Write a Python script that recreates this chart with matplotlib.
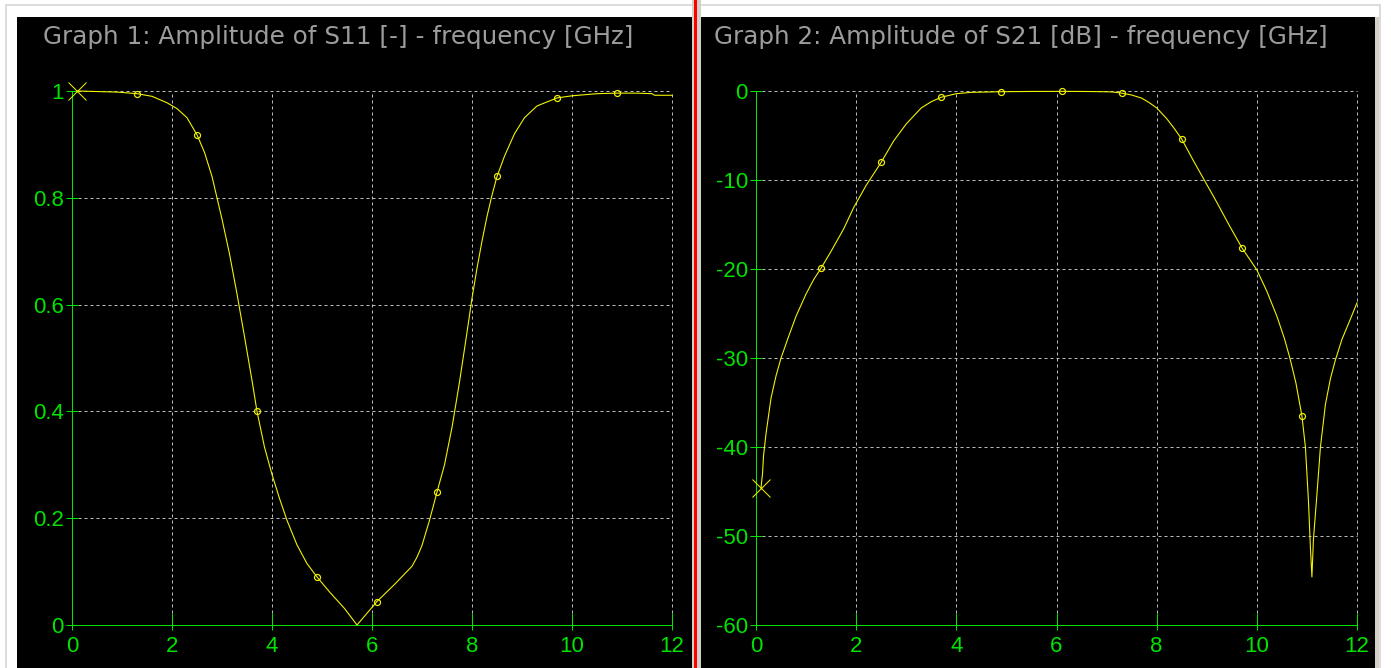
import numpy as np
import matplotlib
matplotlib.use("Agg")
import matplotlib.pyplot as plt
from matplotlib.patches import Rectangle

# ---- data -------------------------------------------------------------
freq_s11 = [0.1, 0.5, 0.9, 1.3, 1.6, 1.9, 2.1, 2.3, 2.5, 2.65, 2.8, 2.9, 3.0,
            3.15, 3.3, 3.45, 3.6, 3.7, 3.85, 4.0, 4.15, 4.3, 4.5, 4.7, 4.9,
            5.15, 5.45, 5.7, 6.1, 6.45, 6.8, 6.9, 7.0, 7.15, 7.3, 7.45, 7.6,
            7.75, 7.9, 8.0, 8.1, 8.2, 8.3, 8.4, 8.5, 8.65, 8.85, 9.05, 9.3,
            9.7, 10.0, 10.5, 10.9, 11.3, 11.6, 11.65, 12.0]
s11_mag = [1.0, 0.999, 0.998, 0.995, 0.990, 0.978, 0.967, 0.950, 0.918, 0.885,
           0.840, 0.800, 0.760, 0.695, 0.620, 0.540, 0.458, 0.400, 0.333, 0.282,
           0.237, 0.196, 0.150, 0.115, 0.090, 0.062, 0.031, 0.000, 0.044, 0.076,
           0.110, 0.127, 0.149, 0.196, 0.249, 0.300, 0.370, 0.455, 0.548, 0.612,
           0.668, 0.719, 0.765, 0.805, 0.840, 0.878, 0.920, 0.950, 0.972, 0.987,
           0.991, 0.995, 0.996, 0.996, 0.995, 0.992, 0.992]

freq_s21 = [0.1, 0.13, 0.15, 0.2, 0.3, 0.4, 0.5, 0.65, 0.8, 1.0, 1.15, 1.3,
            1.5, 1.75, 1.95, 2.2, 2.5, 2.75, 3.0, 3.3, 3.5, 3.7, 4.0, 4.3,
            4.9, 5.5, 6.1, 6.7, 7.1, 7.3, 7.5, 7.7, 7.85, 8.0, 8.2, 8.35, 8.5,
            8.75, 8.95, 9.2, 9.45, 9.7, 10.0, 10.2, 10.4, 10.55, 10.66, 10.78,
            10.9, 10.97, 11.03, 11.07, 11.1, 11.13, 11.2, 11.27, 11.37, 11.47,
            11.57, 11.7, 11.87, 12.0]
s21_db = [-44.6, -43.0, -41.0, -38.5, -34.5, -32.0, -30.0, -27.6, -25.3, -22.8,
          -21.2, -19.9, -18.0, -15.5, -13.1, -10.6, -8.0, -5.6, -3.7, -1.9,
          -1.2, -0.7, -0.3, -0.15, -0.08, -0.05, -0.04, -0.06, -0.1, -0.24,
          -0.45, -0.8, -1.3, -1.9, -3.1, -4.2, -5.4, -8.0, -10.0, -12.5, -15.1,
          -17.6, -20.1, -22.5, -25.3, -27.8, -30.0, -32.8, -36.5, -40.0, -46.0,
          -51.3, -54.6, -50.4, -45.3, -40.0, -35.2, -32.3, -30.2, -27.9, -25.6,
          -23.8]

start_freq = 0.1
marker_freqs = [1.3, 2.5, 3.7, 4.9, 6.1, 7.3, 8.5, 9.7, 10.9]

x_ticks = [0, 2, 4, 6, 8, 10, 12]
s11_ticks = [0, 0.2, 0.4, 0.6, 0.8, 1.0]
s11_tick_labels = ["0", "0.2", "0.4", "0.6", "0.8", "1"]
s21_ticks = [-60, -50, -40, -30, -20, -10, 0]
s21_tick_labels = ["-60", "-50", "-40", "-30", "-20", "-10", "0"]

titles = ["Graph 1: Amplitude of S11 [-] - frequency [GHz]",
          "Graph 2: Amplitude of S21 [dB] - frequency [GHz]"]

# ---- style ------------------------------------------------------------
W, H, DPI = 1391, 668, 100
PX = 72.0 / DPI                      # one pixel in points
GREEN = "#00e400"
YELLOW = "#f4f400"
GRID = "#bcbcbc"
TITLE = "#9c9c9c"
FRAME = "#d4d0c8"

plt.rcParams["font.family"] = ["Liberation Sans", "DejaVu Sans"]
TICK_FONT = ["Liberation Sans", "DejaVu Sans"]
TITLE_FONT = ["DejaVu Sans"]

fig = plt.figure(figsize=(W / DPI, H / DPI), dpi=DPI, facecolor="white")


def box(x0, y0, x1, y1):
    """Figure-fraction rectangle from a pixel box measured from the top-left."""
    return [x0 / W, 1 - y1 / H, (x1 - x0) / W, (y1 - y0) / H]


def add_rect(x0, y0, x1, y1, **kw):
    l, b, w, h = box(x0, y0, x1, y1)
    fig.patches.append(Rectangle((l, b), w, h, transform=fig.transFigure,
                                 figure=fig, zorder=-5, **kw))


# outer frame, black panels and the splitter between them
add_rect(6, 5, 1380, 700, facecolor="none", edgecolor="#dcdcdc", linewidth=2 * PX)
add_rect(17, 17, 692, 700, facecolor="black", edgecolor="none")
add_rect(701, 17, 1375, 700, facecolor="black", edgecolor="none")
add_rect(692, 0, 701, 700, facecolor=FRAME, edgecolor="none")
add_rect(694, 0, 697, 700, facecolor="#ff0000", edgecolor="none")
add_rect(1375, 17, 1379, 700, facecolor=FRAME, edgecolor="none")


def make_panel(rect, freq, vals, yticks, ylabels, ylim, title, title_x):
    ax = fig.add_axes(box(*rect))
    ax.set_zorder(2)
    ax.patch.set_visible(False)
    ax.set_xlim(0, 12)
    ax.set_ylim(*ylim)

    # dotted grid, including the right and top edges
    ax.vlines(x_ticks[1:], ylim[0], ylim[1], colors=GRID, linewidth=PX,
              linestyles=(0, (3, 3)), clip_on=False, zorder=1)
    ax.hlines(yticks[1:], 0, 12, colors=GRID, linewidth=PX,
              linestyles=(0, (3, 3)), clip_on=False, zorder=1)

    for side in ("top", "right"):
        ax.spines[side].set_visible(False)
    for side in ("left", "bottom"):
        ax.spines[side].set_color(GREEN)
        ax.spines[side].set_linewidth(PX)
        ax.spines[side].set_zorder(2)

    ax.set_xticks(x_ticks)
    ax.set_xticklabels([str(t) for t in x_ticks])
    ax.set_xticks(x_ticks, minor=True)
    ax.xaxis.remove_overlapping_locs = False
    ax.set_yticks(yticks)
    ax.set_yticklabels(ylabels)

    ax.tick_params(axis="x", which="major", direction="in", length=12 * PX,
                   width=PX, color=GREEN, labelcolor=GREEN, labelsize=16,
                   pad=8)
    ax.tick_params(axis="x", which="minor", direction="out", length=5 * PX,
                   width=PX, color=GREEN, labelbottom=False)
    ax.tick_params(axis="y", which="major", direction="inout", length=12 * PX,
                   width=PX, color=GREEN, labelcolor=GREEN, labelsize=16,
                   pad=1.5)
    for lab in ax.get_xticklabels() + ax.get_yticklabels():
        lab.set_family(TICK_FONT)

    ax.plot(freq, vals, color=YELLOW, linewidth=1.1 * PX, clip_on=False,
            zorder=3)
    idx = [freq.index(f) for f in marker_freqs]
    ax.plot(freq, vals, linestyle="none", marker="o", markevery=idx,
            markersize=6 * PX, markerfacecolor="none", markeredgecolor=YELLOW,
            markeredgewidth=1.2 * PX, clip_on=False, zorder=4)
    i0 = freq.index(start_freq)
    ax.plot(freq, vals, linestyle="none", marker="x", markevery=[i0],
            markersize=18 * PX, markeredgecolor=YELLOW,
            markeredgewidth=1.0 * PX, clip_on=False, zorder=4)

    fig.text(title_x / W, 1 - 37 / H, title, color=TITLE, fontsize=17.7,
             family=TITLE_FONT, ha="left", va="center")
    return ax


make_panel((72, 91, 672, 625), freq_s11, s11_mag, s11_ticks, s11_tick_labels,
           (0, 1), titles[0], 43)
make_panel((756, 91, 1357, 625), freq_s21, s21_db, s21_ticks, s21_tick_labels,
           (-60, 0), titles[1], 714)

fig.savefig("out.png", dpi=DPI, facecolor="white")
